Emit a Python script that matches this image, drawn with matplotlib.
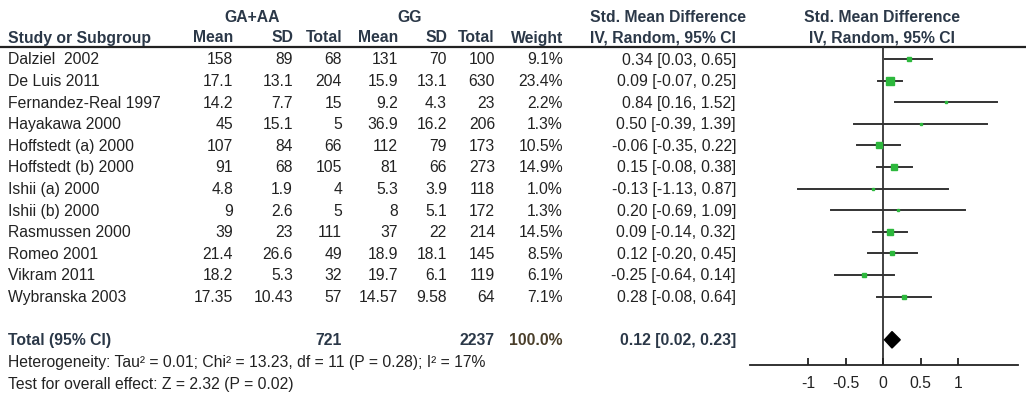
import numpy as np
import matplotlib.pyplot as plt

plt.rcParams['font.family'] = ['Liberation Sans', 'DejaVu Sans']

# Study data
studies = ["Dalziel  2002", "De Luis 2011", "Fernandez-Real 1997", "Hayakawa 2000",
           "Hoffstedt (a) 2000", "Hoffstedt (b) 2000", "Ishii (a) 2000", "Ishii (b) 2000",
           "Rasmussen 2000", "Romeo 2001", "Vikram 2011", "Wybranska 2003"]
ga_mean = ["158", "17.1", "14.2", "45", "107", "91", "4.8", "9", "39", "21.4", "18.2", "17.35"]
ga_sd = ["89", "13.1", "7.7", "15.1", "84", "68", "1.9", "2.6", "23", "26.6", "5.3", "10.43"]
ga_total = ["68", "204", "15", "5", "66", "105", "4", "5", "111", "49", "32", "57"]
gg_mean = ["131", "15.9", "9.2", "36.9", "112", "81", "5.3", "8", "37", "18.9", "19.7", "14.57"]
gg_sd = ["70", "13.1", "4.3", "16.2", "79", "66", "3.9", "5.1", "22", "18.1", "6.1", "9.58"]
gg_total = ["100", "630", "23", "206", "173", "273", "118", "172", "214", "145", "119", "64"]
weights = [9.1, 23.4, 2.2, 1.3, 10.5, 14.9, 1.0, 1.3, 14.5, 8.5, 6.1, 7.1]
smd = [0.34, 0.09, 0.84, 0.50, -0.06, 0.15, -0.13, 0.20, 0.09, 0.12, -0.25, 0.28]
ci_lo = [0.03, -0.07, 0.16, -0.39, -0.35, -0.08, -1.13, -0.69, -0.14, -0.20, -0.64, -0.08]
ci_hi = [0.65, 0.25, 1.52, 1.39, 0.22, 0.38, 0.87, 1.09, 0.32, 0.45, 0.14, 0.64]

total_ga = "721"
total_gg = "2237"
total_weight = "100.0%"
total_est, total_lo, total_hi = 0.12, 0.02, 0.23
hetero_text = "Heterogeneity: Tau\u00b2 = 0.01; Chi\u00b2 = 13.23, df = 11 (P = 0.28); I\u00b2 = 17%"
effect_text = "Test for overall effect: Z = 2.32 (P = 0.02)"
xticks = [-1, -0.5, 0, 0.5, 1]
xtick_labels = ["-1", "-0.5", "0", "0.5", "1"]

W, H = 1034, 402
fig = plt.figure(figsize=(W / 100, H / 100), dpi=100)

# text layer in pixel coordinates
tx = fig.add_axes([0, 0, 1, 1])
tx.set_xlim(0, W)
tx.set_ylim(H, 0)
tx.axis('off')

hdr_color = '#2b3848'
txt_color = '#222222'
fs = 11.3
row0, step = 60, 21.6
rows_y = [row0 + step * i for i in range(len(studies))]
total_y = row0 + step * 13

# header
tx.text(252, 17, "GA+AA", ha='center', va='center', fontsize=fs, fontweight='bold', color=hdr_color)
tx.text(410, 17, "GG", ha='center', va='center', fontsize=fs, fontweight='bold', color=hdr_color)
tx.text(668, 17, "Std. Mean Difference", ha='center', va='center', fontsize=fs, fontweight='bold', color=hdr_color)
tx.text(882, 17, "Std. Mean Difference", ha='center', va='center', fontsize=fs, fontweight='bold', color=hdr_color)
tx.text(8, 38, "Study or Subgroup", ha='left', va='center', fontsize=fs, fontweight='bold', color=hdr_color)
col_right = [233, 293, 342, 398, 447, 495]
for x, lab in zip(col_right, ["Mean", "SD", "Total", "Mean", "SD", "Total"]):
    tx.text(x, 38, lab, ha='right', va='center', fontsize=fs, fontweight='bold', color=hdr_color)
tx.text(563, 38, "Weight", ha='right', va='center', fontsize=fs, fontweight='bold', color=hdr_color)
tx.text(736, 38, "IV, Random, 95% CI", ha='right', va='center', fontsize=fs, fontweight='bold', color=hdr_color)
tx.text(882, 38, "IV, Random, 95% CI", ha='center', va='center', fontsize=fs, fontweight='bold', color=hdr_color)
tx.plot([0, 1026], [48, 48], color=txt_color, lw=1.6, solid_capstyle='butt')

# study rows
for i, y in enumerate(rows_y):
    tx.text(8, y, studies[i], ha='left', va='center', fontsize=fs, color=txt_color)
    vals = [ga_mean[i], ga_sd[i], ga_total[i], gg_mean[i], gg_sd[i], gg_total[i]]
    for x, v in zip(col_right, vals):
        tx.text(x, y, v, ha='right', va='center', fontsize=fs, color=txt_color)
    tx.text(563, y, f"{weights[i]:.1f}%", ha='right', va='center', fontsize=fs, color=txt_color)
    tx.text(736, y, f"{smd[i]:.2f} [{ci_lo[i]:.2f}, {ci_hi[i]:.2f}]", ha='right', va='center',
            fontsize=fs, color=txt_color)

# total row
tx.text(8, total_y, "Total (95% CI)", ha='left', va='center', fontsize=fs, fontweight='bold', color=hdr_color)
tx.text(342, total_y, total_ga, ha='right', va='center', fontsize=fs, fontweight='bold', color=hdr_color)
tx.text(495, total_y, total_gg, ha='right', va='center', fontsize=fs, fontweight='bold', color=hdr_color)
tx.text(563, total_y, total_weight, ha='right', va='center', fontsize=fs, fontweight='bold', color='#4a3e2a')
tx.text(736, total_y, f"{total_est:.2f} [{total_lo:.2f}, {total_hi:.2f}]", ha='right', va='center',
        fontsize=fs, fontweight='bold', color=hdr_color)
tx.text(8, total_y + 22, hetero_text, ha='left', va='center', fontsize=fs, color=txt_color)
tx.text(8, total_y + 44, effect_text, ha='left', va='center', fontsize=fs, color=txt_color)

# forest plot axes
x_left, x_right, y_top, y_bot = 750, 1018, 48, 366
ax = fig.add_axes([x_left / W, 1 - y_bot / H, (x_right - x_left) / W, (y_bot - y_top) / H])
ax.patch.set_alpha(0)
ppu = 75.0  # pixels per unit
ax.set_xlim(-(883 - x_left) / ppu, (x_right - 883) / ppu)
ax.set_ylim((y_bot - row0) / step, (y_top - row0) / step)
for s in ['top', 'left', 'right']:
    ax.spines[s].set_visible(False)
ax.spines['bottom'].set_linewidth(1.3)
ax.spines['bottom'].set_color(txt_color)
ax.set_yticks([])
ax.set_xticks(xticks)
ax.set_xticklabels(xtick_labels, fontsize=fs, color=txt_color)
ax.tick_params(axis='x', direction='in', length=5, width=1.3, color=txt_color, pad=7)
ax.axvline(0, color='#333333', lw=1.3, zorder=1)

for i in range(len(studies)):
    ax.plot([ci_lo[i], ci_hi[i]], [i, i], color='#333333', lw=1.4, zorder=2)
    ms = 5.6 * np.sqrt(weights[i] / max(weights))
    ax.plot(smd[i], i, marker='s', ms=max(ms, 1.6), color='#2db83d', mec='#2db83d', zorder=3)

ax.fill([total_lo, total_est, total_hi, total_est], [13, 13 - 0.38, 13, 13 + 0.38],
        color='black', zorder=3)

fig.savefig("out.png", dpi=100)
